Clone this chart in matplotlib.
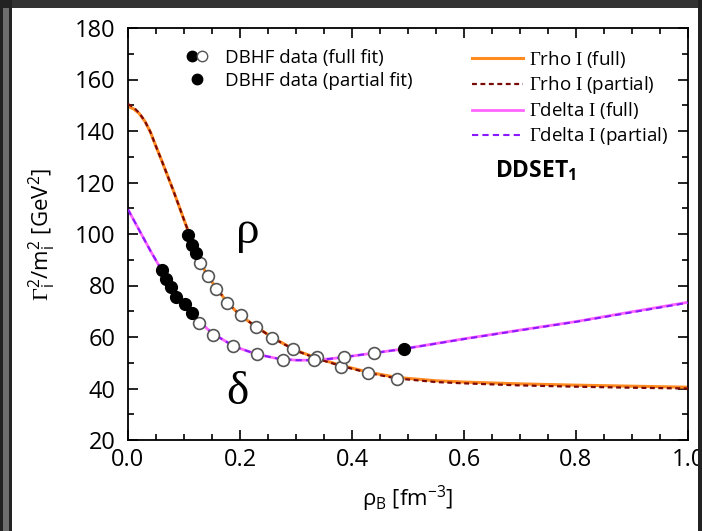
import matplotlib
matplotlib.use("Agg")
import matplotlib.pyplot as plt
from matplotlib.lines import Line2D
from matplotlib.patches import Rectangle
from matplotlib.legend_handler import HandlerTuple
from matplotlib.ticker import MultipleLocator, FormatStrFormatter

plt.rcParams['font.family'] = ['Open Sans', 'DejaVu Sans']
plt.rcParams['mathtext.fontset'] = 'custom'
plt.rcParams['mathtext.rm'] = 'Open Sans'
plt.rcParams['mathtext.it'] = 'Open Sans'
plt.rcParams['mathtext.bf'] = 'Open Sans:bold'
plt.rcParams['mathtext.cal'] = 'Liberation Serif'

# DBHF data points
rho_filled_x = [0.108, 0.114, 0.121]
rho_filled_y = [99.6, 95.7, 92.7]
rho_open_x = [0.129, 0.142, 0.157, 0.177, 0.201, 0.229, 0.258, 0.294, 0.337, 0.380, 0.429, 0.481]
rho_open_y = [88.9, 83.7, 78.5, 73.3, 68.5, 64.0, 59.5, 55.5, 52.4, 48.5, 45.9, 43.7]

delta_filled_x = [0.060, 0.068, 0.076, 0.086, 0.102, 0.114, 0.492]
delta_filled_y = [86.0, 82.5, 79.3, 75.7, 72.8, 69.2, 55.3]
delta_open_x = [0.127, 0.151, 0.187, 0.230, 0.277, 0.332, 0.386, 0.439]
delta_open_y = [65.6, 60.8, 56.6, 53.4, 51.1, 51.2, 52.1, 53.7]

# fitted curves
rho_fit_x = [0.00, 0.01, 0.02, 0.03, 0.04, 0.05, 0.06, 0.07, 0.08, 0.09, 0.10, 0.11,
             0.12, 0.13, 0.14, 0.16, 0.18, 0.20, 0.23, 0.26, 0.30, 0.34, 0.38, 0.43,
             0.48, 0.55, 0.60, 0.70, 0.80, 0.90, 1.00]
rho_full_y = [149.5, 148.6, 146.8, 143.8, 139.6, 134.0, 128.6, 123.0, 117.4, 111.5, 105.5, 99.7,
              94.0, 89.0, 84.5, 78.3, 72.8, 68.5, 63.8, 59.5, 54.8, 51.6, 49.0, 46.3,
              44.3, 43.0, 42.5, 41.8, 41.3, 40.9, 40.5]
rho_part_y = [150.5, 149.2, 147.0, 143.9, 139.6, 134.0, 128.6, 123.0, 117.4, 111.5, 105.5, 99.7,
              94.0, 89.0, 84.5, 78.3, 72.8, 68.5, 63.8, 59.4, 54.7, 51.4, 48.8, 46.0,
              43.9, 42.5, 42.0, 41.2, 40.7, 40.3, 40.0]

delta_fit_x = [0.00, 0.02, 0.04, 0.06, 0.08, 0.10, 0.12, 0.15, 0.19, 0.23, 0.27, 0.30,
               0.33, 0.36, 0.40, 0.44, 0.49, 0.60, 0.70, 0.80, 0.90, 1.00]
delta_full_y = [109.5, 101.5, 93.5, 86.0, 78.5, 72.5, 67.5, 61.5, 56.3, 53.3, 51.5, 51.0,
                51.0, 51.5, 52.6, 53.8, 55.3, 59.3, 62.7, 66.0, 69.8, 73.5]
delta_part_y = [109.5, 101.5, 93.5, 86.0, 78.5, 72.5, 67.5, 61.5, 56.3, 53.3, 51.5, 51.0,
                51.0, 51.5, 52.6, 53.8, 55.3, 59.2, 62.6, 65.9, 69.6, 73.3]

fig = plt.figure(figsize=(7.02, 5.31), dpi=100)
fig.patch.set_facecolor('white')
ax = fig.add_axes([128 / 702, 91 / 531, 560 / 702, 412 / 531])

ax.plot(rho_fit_x, rho_full_y, color='#FF8A1F', lw=2.2, zorder=2)
ax.plot(rho_fit_x, rho_part_y, color='#7A0A0A', lw=1.6, ls=(0, (2.2, 1.6)), zorder=3)
ax.plot(delta_fit_x, delta_full_y, color='#FF66FF', lw=2.0, zorder=2)
ax.plot(delta_fit_x, delta_part_y, color='#8A1AFF', lw=1.5, ls=(0, (3, 2)), zorder=3)

ms = 8.5
ax.plot(rho_open_x, rho_open_y, 'o', ms=ms, mfc='white', mec='#555555', mew=1.2, zorder=4)
ax.plot(delta_open_x, delta_open_y, 'o', ms=ms, mfc='white', mec='#555555', mew=1.2, zorder=4)
ax.plot(rho_filled_x, rho_filled_y, 'o', ms=ms, mfc='black', mec='black', zorder=5)
ax.plot(delta_filled_x, delta_filled_y, 'o', ms=ms, mfc='black', mec='black', zorder=5)

ax.text(0.214, 101, 'ρ', fontsize=34, family='Liberation Serif', ha='center', va='center')
ax.text(0.196, 38.5, 'δ', fontsize=34, family='Liberation Serif', ha='center', va='center')
ax.text(0.655, 124.5, r'DDSET$_\mathbf{1}$', fontsize=16.5, fontweight='bold', ha='left', va='center')

ax.set_xlim(0, 1.0)
ax.set_ylim(20, 180)
ax.xaxis.set_major_locator(MultipleLocator(0.2))
ax.xaxis.set_minor_locator(MultipleLocator(0.05))
ax.yaxis.set_major_locator(MultipleLocator(20))
ax.yaxis.set_minor_locator(MultipleLocator(10))
ax.tick_params(which='both', direction='in', top=True, right=True, width=1.2, labelsize=17)
ax.tick_params(which='major', length=7)
ax.tick_params(which='minor', length=4)
ax.tick_params(axis='y', which='major', pad=9)
ax.tick_params(axis='x', which='major', pad=6)
ax.xaxis.set_major_formatter(FormatStrFormatter('%.1f'))
for s in ax.spines.values():
    s.set_linewidth(1.3)

ax.set_xlabel(r'$\rho_B$ [fm$^{-3}$]', fontsize=16, labelpad=8)
ax.set_ylabel(r'$\mathcal{\Gamma}_i^2$/m$_i^2$ [GeV$^2$]', fontsize=16, labelpad=12)

# left legend: data markers
h_filled = Line2D([], [], marker='o', ls='none', ms=7.5, mfc='black', mec='black')
h_open = Line2D([], [], marker='o', ls='none', ms=7.5, mfc='white', mec='#555555')
leg1 = ax.legend([(h_filled, h_open), h_filled],
                 ['DBHF data (full fit)', 'DBHF data (partial fit)'],
                 handler_map={tuple: HandlerTuple(ndivide=None, pad=-0.3)},
                 loc='upper left', bbox_to_anchor=(0.07, 0.99), frameon=False,
                 fontsize=13.5, handlelength=1.4, handletextpad=0.8, labelspacing=0.25)
ax.add_artist(leg1)

lines = [Line2D([], [], color='#FF8A1F', lw=2.2),
         Line2D([], [], color='#7A0A0A', lw=1.6, ls=(0, (2.2, 1.6))),
         Line2D([], [], color='#FF66FF', lw=2.0),
         Line2D([], [], color='#8A1AFF', lw=1.5, ls=(0, (3, 2)))]
ax.legend(lines, [r'$\mathcal{\Gamma}$rho $\mathcal{I}$ (full)',
                  r'$\mathcal{\Gamma}$rho $\mathcal{I}$ (partial)',
                  r'$\mathcal{\Gamma}$delta $\mathcal{I}$ (full)',
                  r'$\mathcal{\Gamma}$delta $\mathcal{I}$ (partial)'],
          loc='upper left', bbox_to_anchor=(0.585, 0.99), frameon=False, fontsize=13.5,
          handlelength=2.7, handletextpad=0.3, labelspacing=0.22)

# dark screenshot frame
fig.add_artist(Rectangle((0, 523 / 531), 1, 8 / 531, transform=fig.transFigure,
                         facecolor='#333333', edgecolor='none', zorder=10))
fig.add_artist(Rectangle((0, 0), 12 / 702, 1, transform=fig.transFigure,
                         facecolor='#222222', edgecolor='none', zorder=10))
fig.add_artist(Rectangle((3 / 702, 0), 6 / 702, 523 / 531, transform=fig.transFigure,
                         facecolor='#6e6e6e', edgecolor='none', zorder=11))
fig.add_artist(Rectangle((698 / 702, 0), 4 / 702, 1, transform=fig.transFigure,
                         facecolor='#222222', edgecolor='none', zorder=10))

fig.savefig('out.png', dpi=100)
